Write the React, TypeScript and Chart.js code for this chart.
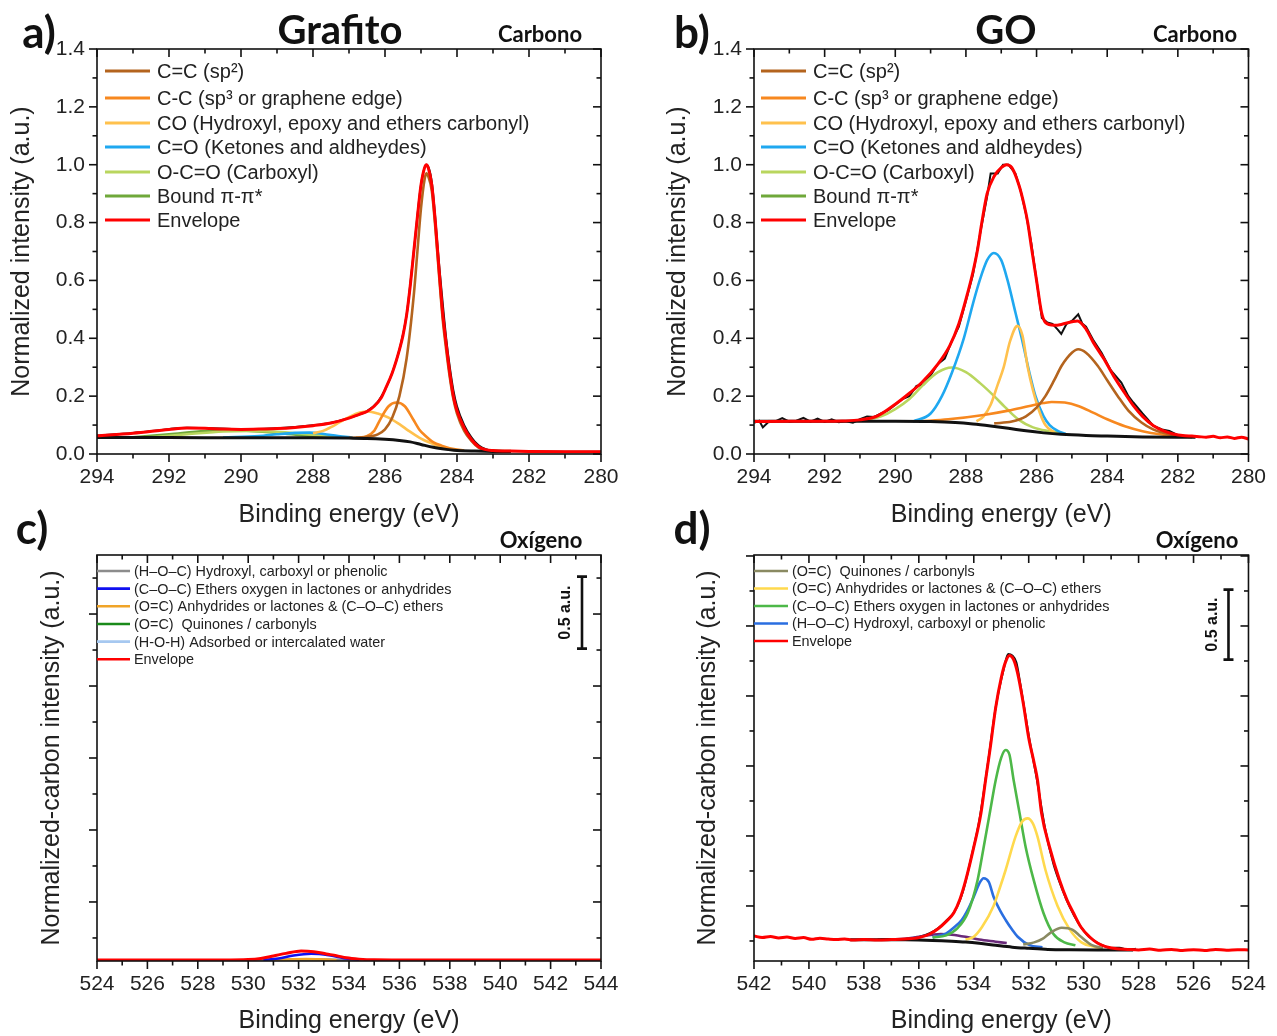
import React, { useEffect, useRef } from 'react';
import { Chart, registerables } from 'chart.js';
Chart.register(...registerables);

type P = [number, number];

// ---------------- Panel a) Grafito, C 1s ----------------
const aRaw: P[] = [[294,0.064],[293,0.073],[292,0.086],[291.5,0.091],[291,0.09],[290,0.086],[289,0.089],[288,0.099],[287.5,0.108],[287,0.125],[286.5,0.148],[286.2,0.18],[286,0.222],[285.8,0.28],[285.6,0.36],[285.4,0.48],[285.2,0.7],[285,0.93],[284.85,1.0],[284.7,0.94],[284.5,0.66],[284.3,0.4],[284.2,0.3],[284.1,0.22],[284,0.165],[283.8,0.1],[283.6,0.058],[283.4,0.03],[283.2,0.017],[283,0.012],[282,0.009],[281,0.008],[280,0.008]];
const aEnvelope: P[] = [[294,0.063],[293,0.072],[292,0.085],[291.5,0.09],[291,0.089],[290.5,0.086],[290,0.085],[289.5,0.086],[289,0.088],[288.5,0.092],[288,0.098],[287.5,0.107],[287,0.124],[286.7,0.138],[286.5,0.147],[286.3,0.165],[286.1,0.195],[286,0.222],[285.8,0.28],[285.6,0.36],[285.5,0.41],[285.4,0.48],[285.3,0.58],[285.2,0.7],[285.1,0.82],[285,0.93],[284.9,0.99],[284.85,1.0],[284.8,0.99],[284.7,0.93],[284.6,0.8],[284.5,0.64],[284.4,0.49],[284.3,0.38],[284.2,0.28],[284.1,0.2],[284,0.15],[283.8,0.09],[283.6,0.05],[283.4,0.025],[283.2,0.015],[283,0.012],[282.5,0.01],[282,0.009],[281,0.008],[280,0.008]];
const aBackground: P[] = [[294,0.057],[292,0.057],[290,0.056],[288,0.056],[287,0.055],[286.5,0.054],[286,0.051],[285.6,0.047],[285.3,0.042],[285,0.033],[284.66,0.023],[284.3,0.016],[284.09,0.013],[283.5,0.01],[283,0.009],[282.5,0.009]];
const aCsp2: P[] = [[287,0.056],[286.6,0.058],[286.2,0.068],[286,0.085],[285.8,0.125],[285.6,0.2],[285.4,0.33],[285.2,0.55],[285.1,0.7],[285,0.85],[284.9,0.95],[284.85,0.97],[284.8,0.96],[284.7,0.91],[284.6,0.78],[284.5,0.62],[284.4,0.47],[284.3,0.36],[284.2,0.265],[284.1,0.19],[284,0.14],[283.8,0.08],[283.6,0.045],[283.4,0.022],[283.2,0.013],[283,0.011],[282.5,0.01]];
const aCsp3: P[] = [[286.8,0.056],[286.5,0.062],[286.3,0.08],[286.13,0.12],[285.9,0.165],[285.68,0.178],[285.45,0.165],[285.22,0.12],[285.05,0.085],[284.88,0.063],[284.65,0.04],[284.43,0.029],[284.09,0.017],[283.8,0.012]];
const aCO: P[] = [[288,0.072],[287.72,0.08],[287.5,0.093],[287.27,0.109],[286.93,0.132],[286.7,0.143],[286.47,0.147],[286.2,0.14],[285.9,0.126],[285.6,0.103],[285.34,0.08],[285.05,0.057],[284.77,0.04],[284.5,0.026],[284.2,0.017],[283.9,0.012]];
const aCdO: P[] = [[290.5,0.057],[289.5,0.062],[289,0.068],[288.5,0.073],[288.1,0.074],[287.7,0.069],[287.3,0.062],[286.9,0.057]];
const aOCO: P[] = [[292.5,0.058],[291.5,0.068],[290.5,0.078],[289.8,0.08],[289,0.077],[288.3,0.07],[287.6,0.062],[287,0.057]];
const aPi: P[] = [[293,0.058],[292,0.068],[291,0.079],[290.2,0.081],[289.4,0.077],[288.6,0.068],[287.8,0.06],[287.2,0.057]];

// ---------------- Panel b) GO, C 1s ----------------
const bRaw: P[] = [[294,0.108],[293.85,0.115],[293.75,0.092],[293.6,0.11],[293.4,0.113],[293.2,0.124],[293,0.112],[292.8,0.115],[292.6,0.125],[292.4,0.112],[292.2,0.122],[292,0.111],[291.8,0.12],[291.6,0.11],[291.4,0.113],[291.2,0.108],[291,0.12],[290.8,0.13],[290.6,0.128],[290.4,0.14],[290.2,0.152],[290,0.17],[289.8,0.19],[289.6,0.2],[289.4,0.235],[289.2,0.24],[289,0.272],[288.8,0.31],[288.6,0.33],[288.4,0.39],[288.2,0.44],[288,0.53],[287.8,0.62],[287.6,0.76],[287.4,0.89],[287.3,0.97],[287.1,0.97],[286.95,1.0],[286.8,1.0],[286.6,0.97],[286.45,0.91],[286.3,0.83],[286.15,0.73],[286,0.6],[285.85,0.47],[285.7,0.455],[285.55,0.45],[285.4,0.43],[285.3,0.415],[285.15,0.45],[285,0.46],[284.82,0.483],[284.7,0.45],[284.6,0.44],[284.4,0.395],[284.16,0.35],[283.9,0.29],[283.6,0.247],[283.4,0.2],[283.26,0.178],[283,0.14],[282.85,0.12],[282.7,0.098],[282.45,0.085],[282.24,0.08],[282,0.065],[281.8,0.062]];
const bEnvelope: P[] = [[294,0.112],[293,0.113],[292,0.113],[291.5,0.114],[291,0.118],[290.5,0.132],[290,0.172],[289.6,0.21],[289.25,0.247],[288.8,0.31],[288.46,0.374],[288.2,0.45],[287.95,0.557],[287.8,0.63],[287.67,0.707],[287.55,0.8],[287.4,0.9],[287.2,0.96],[287,0.99],[286.85,1.0],[286.7,0.99],[286.5,0.93],[286.35,0.86],[286.25,0.8],[286.14,0.71],[286,0.6],[285.86,0.49],[285.75,0.455],[285.5,0.445],[285.3,0.448],[285,0.457],[284.84,0.46],[284.6,0.432],[284.39,0.385],[284.1,0.33],[283.82,0.27],[283.5,0.21],[283.26,0.167],[283,0.13],[282.69,0.098],[282.4,0.08],[282.13,0.069],[281.8,0.063],[281.6,0.062],[281.4,0.06],[281.2,0.058],[281,0.061],[280.8,0.056],[280.6,0.059],[280.4,0.054],[280.2,0.058],[280,0.052]];
const bBackground: P[] = [[294,0.113],[291,0.113],[290,0.113],[289,0.112],[288.3,0.109],[287.8,0.104],[287.3,0.097],[286.8,0.089],[286.3,0.08],[285.8,0.073],[285.3,0.068],[284.6,0.064],[284,0.062],[283,0.059],[282,0.058],[281.5,0.058]];
const bCsp2: P[] = [[287.2,0.106],[286.7,0.112],[286.3,0.13],[286,0.16],[285.75,0.2],[285.5,0.255],[285.29,0.305],[285,0.35],[284.82,0.362],[284.6,0.35],[284.27,0.305],[284,0.255],[283.7,0.2],[283.4,0.15],[283.03,0.109],[282.7,0.085],[282.47,0.075],[282,0.063],[281.6,0.058]];
const bCsp3: P[] = [[289.3,0.113],[288.5,0.12],[287.5,0.135],[286.8,0.15],[286.2,0.166],[285.8,0.176],[285.57,0.18],[285.2,0.178],[284.8,0.165],[284.4,0.143],[284,0.12],[283.5,0.096],[283,0.079],[282.5,0.068],[282,0.062],[281.7,0.06]];
const bCO: P[] = [[287.7,0.113],[287.5,0.13],[287.3,0.17],[287.1,0.24],[286.93,0.3],[286.75,0.39],[286.54,0.443],[286.4,0.41],[286.25,0.3],[286.1,0.22],[285.9,0.14],[285.75,0.1],[285.5,0.075]];
const bCdO: P[] = [[289.5,0.112],[289,0.14],[288.68,0.2],[288.4,0.28],[288.06,0.4],[287.8,0.52],[287.61,0.6],[287.4,0.67],[287.21,0.695],[287,0.67],[286.82,0.6],[286.6,0.49],[286.42,0.4],[286.2,0.28],[286.03,0.2],[285.8,0.13],[285.63,0.1],[285.4,0.08],[285.18,0.07]];
const bOCO: P[] = [[290.8,0.118],[290.4,0.13],[290,0.155],[289.6,0.19],[289.2,0.24],[288.8,0.282],[288.4,0.299],[288,0.283],[287.6,0.245],[287.2,0.2],[286.9,0.163],[286.5,0.118],[286.1,0.092],[285.7,0.08],[285.3,0.074]];

// ---------------- Panel c) Grafito, O 1s ----------------
const cEnvelope: P[] = [[524,-0.403],[529,-0.403],[530,-0.4],[530.5,-0.392],[531,-0.375],[531.5,-0.357],[532.1,-0.34],[532.6,-0.345],[533.1,-0.361],[533.5,-0.373],[533.9,-0.388],[534.4,-0.397],[535,-0.402],[536,-0.403],[544,-0.403]];
const cHOC: P[] = [[530.2,-0.405],[531.5,-0.401],[532.5,-0.399],[533.5,-0.402],[534.5,-0.405]];
const cCOC: P[] = [[530.6,-0.403],[531.2,-0.393],[531.8,-0.372],[532.5,-0.36],[533.2,-0.37],[533.8,-0.39],[534.4,-0.402]];
const cOC: P[] = [[531,-0.405],[531.8,-0.398],[532.3,-0.396],[532.9,-0.399],[533.5,-0.405]];

// ---------------- Panel d) GO, O 1s ----------------
const dRaw: P[] = [[537.5,-0.24],[537,-0.235],[536.5,-0.235],[536,-0.222],[535.6,-0.195],[535.3,-0.16],[535,-0.105],[534.7,-0.04],[534.4,0.1],[534.1,0.34],[533.8,0.61],[533.5,1.0],[533.2,1.42],[532.9,1.7],[532.75,1.8],[532.6,1.79],[532.45,1.74],[532.3,1.58],[532,1.22],[531.7,0.9],[531.4,0.55],[531.1,0.3],[530.8,0.13],[530.5,-0.01],[530.2,-0.12],[529.9,-0.2],[529.6,-0.25],[529.3,-0.282],[529,-0.3],[528.7,-0.298],[528.4,-0.312],[528.1,-0.305]];
const dEnvelope: P[] = [[542,-0.215],[541.7,-0.225],[541.4,-0.218],[541.1,-0.228],[540.8,-0.222],[540.5,-0.232],[540.2,-0.226],[539.9,-0.238],[539.6,-0.23],[539.3,-0.236],[539,-0.24],[538.7,-0.235],[538.4,-0.243],[538,-0.24],[537.5,-0.243],[537,-0.24],[536.5,-0.236],[536,-0.226],[535.6,-0.2],[535.3,-0.163],[535,-0.11],[534.73,-0.05],[534.5,0.05],[534.29,0.186],[534,0.42],[533.74,0.66],[533.57,0.9],[533.4,1.13],[533.2,1.42],[533,1.63],[532.85,1.74],[532.7,1.79],[532.55,1.76],[532.4,1.66],[532.2,1.45],[532,1.2],[531.8,1.02],[531.68,0.9],[531.53,0.66],[531.24,0.42],[530.88,0.186],[530.6,0.04],[530.37,-0.05],[530.1,-0.15],[529.79,-0.22],[529.5,-0.265],[529.2,-0.29],[528.8,-0.305],[528.4,-0.31],[528,-0.314],[527.6,-0.308],[527.2,-0.316],[526.8,-0.31],[526.4,-0.318],[526,-0.312],[525.6,-0.318],[525.2,-0.31],[524.8,-0.316],[524.4,-0.312],[524,-0.314]];
const dBackground: P[] = [[538.5,-0.241],[536.5,-0.242],[535.5,-0.246],[534.8,-0.252],[534.3,-0.258],[533.8,-0.267],[533.2,-0.281],[532.6,-0.294],[532,-0.302],[531.3,-0.31],[530.5,-0.313],[529.5,-0.314],[528.2,-0.314]];
const dQuinone: P[] = [[532.2,-0.275],[531.8,-0.26],[531.5,-0.235],[531.2,-0.19],[530.8,-0.155],[530.4,-0.17],[530.1,-0.22],[529.7,-0.28],[529.3,-0.3]];
const dAnhydride: P[] = [[534.3,-0.24],[534,-0.22],[533.7,-0.15],[533.28,0],[533.05,0.13],[532.84,0.257],[532.48,0.495],[532.25,0.6],[532.04,0.626],[531.85,0.59],[531.68,0.495],[531.39,0.257],[530.95,0],[530.51,-0.167],[530.08,-0.26],[529.64,-0.29],[529.3,-0.305]];
const dEther: P[] = [[535.5,-0.225],[535,-0.21],[534.6,-0.16],[534.22,-0.05],[533.86,0.186],[533.64,0.42],[533.42,0.66],[533.2,0.9],[533,1.06],[532.84,1.114],[532.7,1.08],[532.55,0.9],[532.33,0.66],[532.11,0.42],[531.82,0.186],[531.46,-0.052],[531.1,-0.2],[530.7,-0.26],[530.3,-0.28]];
const dHydroxyl: P[] = [[535.5,-0.225],[535,-0.195],[534.7,-0.15],[534.44,-0.1],[534.2,-0.02],[534,0.066],[533.8,0.16],[533.64,0.198],[533.45,0.17],[533.28,0.066],[533.05,-0.03],[532.84,-0.1],[532.6,-0.17],[532.4,-0.22],[531.97,-0.28],[531.5,-0.295]];
const dExtra: P[] = [[537,-0.24],[536.5,-0.235],[536,-0.22],[535.5,-0.205],[535.2,-0.2],[534.8,-0.205],[534.3,-0.22],[533.8,-0.24],[533.2,-0.255],[532.8,-0.265]];

// ---------------- legends ----------------
const carbonLabels = ['C=C (sp²)', 'C-C (sp³ or graphene edge)', 'CO (Hydroxyl, epoxy and ethers carbonyl)', 'C=O (Ketones and aldheydes)', 'O-C=O (Carboxyl)', 'Bound π-π*', 'Envelope'];
const carbonColors = ['#b4641e', '#f7881f', '#ffc14d', '#1fa8f0', '#b9d65e', '#6fa83a', '#ff0000'];
const cLabels = ['(H–O–C) Hydroxyl, carboxyl or phenolic', '(C–O–C) Ethers oxygen in lactones or anhydrides', '(O=C) Anhydrides or lactones & (C–O–C) ethers', '(O=C)  Quinones / carbonyls', '(H-O-H) Adsorbed or intercalated water', 'Envelope'];
const cColors = ['#8c8c8c', '#1010f0', '#f0a428', '#1a8a1a', '#a6c8f0', '#ff0000'];
const dLabels = ['(O=C)  Quinones / carbonyls', '(O=C) Anhydrides or lactones & (C–O–C) ethers', '(C–O–C) Ethers oxygen in lactones or anhydrides', '(H–O–C) Hydroxyl, carboxyl or phenolic', 'Envelope'];
const dColors = ['#8a8a62', '#ffd94d', '#4db848', '#2a6ee0', '#ff0000'];

const FONT = "'Liberation Sans', Arial, sans-serif";
const TXT = '#222';

const framePlugin = {
  id: 'frameTicks',
  afterDatasetsDraw(chart: any, _a: any, o: any) {
    const { ctx, chartArea: ca, scales } = chart;
    const xs = scales.x, ys = scales.y;
    ctx.save();
    ctx.strokeStyle = '#111';
    ctx.lineWidth = 1.6;
    ctx.strokeRect(ca.left, ca.top, ca.right - ca.left, ca.bottom - ca.top);
    const ln = (x1: number, y1: number, x2: number, y2: number) => { ctx.beginPath(); ctx.moveTo(x1, y1); ctx.lineTo(x2, y2); ctx.stroke(); };
    const each = (sc: any, minor: number, major: number, cb: (px: number, big: boolean) => void) => {
      const lo = Math.min(sc.min, sc.max), hi = Math.max(sc.min, sc.max);
      for (let k = Math.ceil(lo / minor - 1e-9); k <= Math.floor(hi / minor + 1e-9); k++) {
        const v = k * minor;
        const r = v / major;
        cb(sc.getPixelForValue(v), Math.abs(r - Math.round(r)) < 1e-6);
      }
    };
    each(xs, o.xMinor, o.xMajor, (px, big) => {
      const L = big ? 8 : 4.5;
      ln(px, ca.bottom, px, ca.bottom + L);
      ln(px, ca.top, px, ca.top + L);
    });
    each(ys, o.yMinor, o.yMajor, (py, big) => {
      const L = big ? 8 : 4.5;
      ln(ca.left, py, ca.left - L, py);
      ln(ca.right, py, ca.right - L, py);
    });
    ctx.restore();
  },
};

const legendPlugin = {
  id: 'xpsLegend',
  afterDraw(chart: any, _a: any, o: any) {
    const { ctx, chartArea: ca } = chart;
    ctx.save();
    ctx.font = `${o.size}px ${FONT}`;
    ctx.textBaseline = 'middle';
    ctx.textAlign = 'left';
    o.labels.forEach((lab: string, i: number) => {
      const y = ca.top + (o.ys ? o.ys[i] : o.y0 + i * o.spacing);
      const x = ca.left + o.x0;
      ctx.strokeStyle = o.colors[i];
      ctx.lineWidth = o.lw;
      ctx.beginPath(); ctx.moveTo(x, y); ctx.lineTo(x + o.len, y); ctx.stroke();
      ctx.fillStyle = TXT;
      ctx.fillText(lab, x + o.len + o.gap, y + 1);
    });
    ctx.restore();
  },
};

const scaleBarPlugin = {
  id: 'scaleBar',
  afterDraw(chart: any, _a: any, o: any) {
    if (!o || !o.show) return;
    const { ctx, chartArea: ca, scales } = chart;
    const x = ca.right - o.dx;
    const y1 = scales.y.getPixelForValue(o.from), y2 = scales.y.getPixelForValue(o.to);
    ctx.save();
    ctx.strokeStyle = '#111';
    ctx.lineWidth = 2.6;
    ctx.beginPath();
    ctx.moveTo(x, y1); ctx.lineTo(x, y2);
    ctx.moveTo(x - 5, y1); ctx.lineTo(x + 5, y1);
    ctx.moveTo(x - 5, y2); ctx.lineTo(x + 5, y2);
    ctx.stroke();
    ctx.translate(x - 16, (y1 + y2) / 2);
    ctx.rotate(-Math.PI / 2);
    ctx.font = `bold 16px ${FONT}`;
    ctx.fillStyle = '#111';
    ctx.textAlign = 'center';
    ctx.textBaseline = 'middle';
    ctx.fillText('0.5 a.u.', 0, 0);
    ctx.restore();
  },
};

const ds = (pts: P[], color: string, width: number, smooth = true) => ({
  data: pts.map(([x, y]) => ({ x, y })),
  borderColor: color,
  backgroundColor: color,
  borderWidth: width,
  pointRadius: 0,
  fill: false,
  tension: smooth ? 0.4 : 0,
  cubicInterpolationMode: smooth ? 'monotone' : 'default',
});

interface Spec {
  left: number; top: number; w: number; h: number;
  xMin: number; xMax: number; reverse: boolean;
  yMin: number; yMax: number; yStep: number; yMinor: number; yLabels: boolean;
  yTitle: string; yTitlePad: number; yWidth: number;
  xHeight: number; xTickPad: number; xTitlePad: number;
  padTop: number; padRight: number;
  datasets: any[];
  legend: any;
  scaleBar: any;
}

function build(s: Spec) {
  return {
    type: 'line',
    data: { datasets: s.datasets },
    options: {
      responsive: false,
      animation: false,
      events: [],
      layout: { padding: { left: 0, top: s.padTop, right: s.padRight, bottom: 0 } },
      plugins: {
        legend: { display: false },
        tooltip: { enabled: false },
        frameTicks: { xMajor: 2, xMinor: 1, yMajor: s.yStep, yMinor: s.yMinor },
        xpsLegend: s.legend,
        scaleBar: s.scaleBar,
      },
      scales: {
        x: {
          type: 'linear', min: s.xMin, max: s.xMax, reverse: s.reverse,
          grid: { display: false, drawTicks: false }, border: { display: false },
          ticks: { stepSize: 2, autoSkip: false, maxRotation: 0, padding: s.xTickPad, color: TXT, font: { family: FONT, size: 21 }, callback: (v: any) => String(v) },
          title: { display: true, text: 'Binding energy (eV)', color: TXT, font: { family: FONT, size: 25 }, padding: { top: 0, bottom: s.xTitlePad } },
          afterFit: (sc: any) => { sc.height = s.xHeight; },
        },
        y: {
          type: 'linear', min: s.yMin, max: s.yMax,
          grid: { display: false, drawTicks: false }, border: { display: false },
          ticks: { display: s.yLabels, stepSize: s.yStep, padding: 12, color: TXT, font: { family: FONT, size: 21 }, callback: (v: any) => Number(v).toFixed(1) },
          title: { display: true, text: s.yTitle, color: TXT, font: { family: FONT, size: 25 }, padding: { top: s.yTitlePad, bottom: 0 } },
          afterFit: (sc: any) => { sc.width = s.yWidth; },
        },
      },
    },
    plugins: [framePlugin, legendPlugin, scaleBarPlugin],
  };
}

const carbonLegend = (x0: number) => ({ labels: carbonLabels, colors: carbonColors, size: 20, x0, ys: [22, 49, 74, 98, 123, 147, 171], len: 45, gap: 7, lw: 3 });

const W_ENV = 3, W_BG = 3, W_CMP = 2.6, W_RAW = 2;

const specs: Spec[] = [
  {
    left: 0, top: 0, w: 638, h: 545, xMin: 280, xMax: 294, reverse: true,
    yMin: 0, yMax: 1.4, yStep: 0.2, yMinor: 0.1, yLabels: true,
    yTitle: 'Normalized intensity (a.u.)', yTitlePad: 7, yWidth: 97,
    xHeight: 91, xTickPad: 11, xTitlePad: 15, padTop: 49, padRight: 37,
    datasets: [
      ds(aEnvelope, '#ff0000', W_ENV), ds(aBackground, '#111', W_BG),
      ds(aCsp2, carbonColors[0], W_CMP), ds(aCsp3, carbonColors[1], W_CMP), ds(aCO, carbonColors[2], W_CMP),
      ds(aCdO, carbonColors[3], W_CMP), ds(aOCO, carbonColors[4], W_CMP), ds(aPi, carbonColors[5], W_CMP),
      ds(aRaw, '#111', W_RAW),
    ],
    legend: carbonLegend(8), scaleBar: { show: false },
  },
  {
    left: 640, top: 0, w: 637, h: 545, xMin: 280, xMax: 294, reverse: true,
    yMin: 0, yMax: 1.4, yStep: 0.2, yMinor: 0.1, yLabels: true,
    yTitle: 'Normalized intensity (a.u.)', yTitlePad: 23, yWidth: 114,
    xHeight: 91, xTickPad: 11, xTitlePad: 15, padTop: 49, padRight: 20,
    datasets: [
      ds(bEnvelope, '#ff0000', W_ENV), ds(bBackground, '#111', W_BG),
      ds(bCsp2, carbonColors[0], W_CMP), ds(bCsp3, carbonColors[1], W_CMP), ds(bCO, carbonColors[2], W_CMP),
      ds(bCdO, carbonColors[3], W_CMP), ds(bOCO, carbonColors[4], W_CMP),
      ds(bRaw, '#111', W_RAW, false),
    ],
    legend: carbonLegend(7), scaleBar: { show: false },
  },
  {
    left: 0, top: 530, w: 638, h: 506, xMin: 524, xMax: 544, reverse: false,
    yMin: -0.41, yMax: 2.41, yStep: 0.5, yMinor: 0.25, yLabels: false,
    yTitle: 'Normalized-carbon intensity (a.u.)', yTitlePad: 37, yWidth: 97,
    xHeight: 75, xTickPad: 11, xTitlePad: 0, padTop: 25, padRight: 37,
    datasets: [
      ds(cEnvelope, '#ff0000', W_ENV), ds(cCOC, cColors[1], W_CMP), ds(cOC, cColors[2], W_CMP), ds(cHOC, cColors[0], W_CMP),
    ],
    legend: { labels: cLabels, colors: cColors, size: 14.4, x0: 0, y0: 16, spacing: 17.65, len: 33, gap: 4, lw: 2.6 },
    scaleBar: { show: true, dx: 19, from: 1.76, to: 2.26 },
  },
  {
    left: 640, top: 530, w: 637, h: 506, xMin: 524, xMax: 542, reverse: true,
    yMin: -0.393, yMax: 2.507, yStep: 0.5, yMinor: 0.25, yLabels: false,
    yTitle: 'Normalized-carbon intensity (a.u.)', yTitlePad: 53, yWidth: 114,
    xHeight: 75, xTickPad: 11, xTitlePad: 0, padTop: 25, padRight: 20,
    datasets: [
      ds(dEnvelope, '#ff0000', W_ENV), ds(dBackground, '#111', W_BG),
      ds(dQuinone, dColors[0], W_CMP), ds(dAnhydride, dColors[1], W_CMP), ds(dEther, dColors[2], W_CMP),
      ds(dHydroxyl, dColors[3], W_CMP), ds(dExtra, '#6a2a7a', W_CMP),
      ds(dRaw, '#111', W_RAW),
    ],
    legend: { labels: dLabels, colors: dColors, size: 14.4, x0: 0, y0: 16, spacing: 17.5, len: 34, gap: 4, lw: 2.6 },
    scaleBar: { show: true, dx: 20, from: 1.76, to: 2.26 },
  },
];

function Panel({ spec }: { spec: Spec }) {
  const ref = useRef<HTMLCanvasElement>(null);
  useEffect(() => {
    if (!ref.current) return;
    const chart = new Chart(ref.current, build(spec) as any);
    return () => chart.destroy();
  }, [spec]);
  return (
    <canvas ref={ref} width={spec.w} height={spec.h}
      style={{ position: 'absolute', left: spec.left, top: spec.top, width: spec.w, height: spec.h }} />
  );
}

const overlays = [
  { t: 'a)', x: 39, y: 31, s: 44 },
  { t: 'b)', x: 692, y: 31, s: 44 },
  { t: 'c)', x: 32, y: 527, s: 44 },
  { t: 'd)', x: 692, y: 527, s: 44 },
  { t: 'Grafito', x: 340, y: 29, s: 40 },
  { t: 'GO', x: 1006, y: 29, s: 40 },
  { t: 'Carbono', x: 540, y: 34, s: 22 },
  { t: 'Carbono', x: 1195, y: 34, s: 22 },
  { t: 'Oxígeno', x: 541, y: 540, s: 22 },
  { t: 'Oxígeno', x: 1197, y: 540, s: 22 },
];

export default function App() {
  return (
    <div style={{ position: 'absolute', left: 0, top: 0, width: 1277, height: 1036, background: '#fff', overflow: 'hidden' }}>
      {specs.map((s, i) => <Panel key={i} spec={s} />)}
      {overlays.map((o, i) => (
        <div key={'o' + i} style={{ position: 'absolute', left: o.x, top: o.y, transform: 'translate(-50%, -50%)', fontFamily: 'Lato, sans-serif', fontWeight: 700, fontSize: o.s, lineHeight: 1, color: '#111', whiteSpace: 'nowrap' }}>{o.t}</div>
      ))}
    </div>
  );
}
